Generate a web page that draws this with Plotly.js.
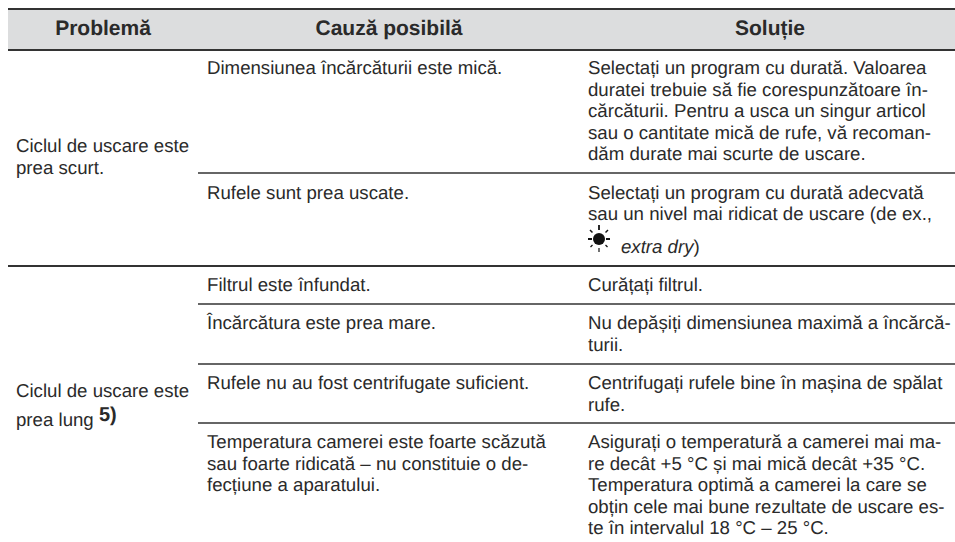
<!DOCTYPE html>
<html><head><meta charset="utf-8">
<script src="https://cdn.plot.ly/plotly-3.0.1.min.js"></script>
<style>html,body{margin:0;padding:0;background:#fff} svg text{text-rendering:geometricPrecision}</style>
</head><body><div id="chart" style="width:955px;height:542px"></div>
<script>
// Table content
const headers = ["Problemă", "Cauză posibilă", "Soluție"];
const problems = [
  ["Ciclul de uscare este", "prea scurt."],
  ["Ciclul de uscare este", "prea lung"]
];
const footnote = "5)";
const causes = [
  ["Dimensiunea încărcăturii este mică."],
  ["Rufele sunt prea uscate."],
  ["Filtrul este înfundat."],
  ["Încărcătura este prea mare."],
  ["Rufele nu au fost centrifugate suficient."],
  ["Temperatura camerei este foarte scăzută", "sau foarte ridicată – nu constituie o de-", "fecțiune a aparatului."]
];
const solutions = [
  ["Selectați un program cu durată. Valoarea", "duratei trebuie să fie corespunzătoare în-", "cărcăturii. Pentru a usca un singur articol", "sau o cantitate mică de rufe, vă recoman-", "dăm durate mai scurte de uscare."],
  ["Selectați un program cu durată adecvată", "sau un nivel mai ridicat de uscare (de ex.,"],
  ["Curățați filtrul."],
  ["Nu depășiți dimensiunea maximă a încărcă-", "turii."],
  ["Centrifugați rufele bine în mașina de spălat", "rufe."],
  ["Asigurați o temperatură a camerei mai ma-", "re decât +5 °C și mai mică decât +35 °C.", "Temperatura optimă a camerei la care se", "obțin cele mai bune rezultate de uscare es-", "te în intervalul 18 °C – 25 °C."]
];
const extraDry = "<i>extra dry</i>)";

// Page geometry (axes map 1:1 onto the page)
const W = 955, H = 542;
const ink = "#2a2a2a";
const font = "Liberation Sans, Arial, sans-serif";
const bodySize = 18.65, headSize = 21;
const step = 21.45;
const headerX = [103, 389, 770], headerY = 29.7;
const colX = [16, 207, 588];
const rowY = [69.8, 194.3, 286.8, 324.8, 384.8, 443.8];
const problemY = [[147.8, 169.8], [392.8, 421.8]];
const rules = [[8, 9, 2.2], [8, 50, 2.2], [198, 173, 1.6], [8, 266, 2.2], [198, 304, 1.6], [198, 364, 1.6], [198, 423, 1.6]];

function blockTrace(blocks, x, size) {
  const xs = [], ys = [], ts = [];
  blocks.forEach((lines, r) => lines.forEach((t, i) => {
    xs.push(x); ys.push(rowY[r] + i * step); ts.push(t);
  }));
  return textTrace(xs, ys, ts, size, "middle right");
}
function textTrace(x, y, text, size, pos, color) {
  return {type: "scatter", mode: "text", x, y, text, textposition: pos, cliponaxis: false,
    textfont: {family: font, size, color: color || ink}, hoverinfo: "skip", showlegend: false};
}
const pX = [], pY = [], pT = [];
problems.forEach((lines, b) => lines.forEach((t, i) => { pX.push(colX[0]); pY.push(problemY[b][i]); pT.push(t); }));

const traces = [
  textTrace(headerX, [headerY, headerY, headerY], headers.map(h => "<b>" + h + "</b>"), headSize, "middle center"),
  textTrace(pX, pY, pT, bodySize, "middle right"),
  textTrace([99], [415.5], ["<b>" + footnote + "</b>"], 20, "middle right"),
  blockTrace(causes, colX[1], bodySize),
  blockTrace(solutions, colX[2], bodySize),
  textTrace([621], [248.5], [extraDry], bodySize, "middle right")
];

const shapes = [{type: "rect", xref: "x", yref: "y", x0: 8, x1: W, y0: 9, y1: 50, fillcolor: "#dcddde", line: {width: 0}, layer: "below"}];
rules.forEach(([x, y, w]) => shapes.push({type: "line", xref: "x", yref: "y", x0: x, x1: W, y0: y, y1: y, line: {color: "#333333", width: w}}));
// sun icon of the "extra dry" level
const sx = 599, sy = 239;
shapes.push({type: "circle", xref: "x", yref: "y", x0: sx - 6, x1: sx + 6, y0: sy - 6, y1: sy + 6, fillcolor: "#111", line: {width: 0}});
[[0,-14,0,-9,1.8],[-11,0,-7,0,2],[7,0,11,0,2],[0,9,0,13,1.2],[-9,-9,-6.5,-6.5,1.5],[6.5,-6.5,9,-9,1.5],[-8.5,8,-6.5,6,1.2],[6.5,6,8.5,8,1.2]]
  .forEach(([a,b,c,d,w]) => shapes.push({type: "line", xref: "x", yref: "y", x0: sx+a, y0: sy+b, x1: sx+c, y1: sy+d, line: {color: "#111", width: w}}));

const hidden = {visible: false, fixedrange: true};
Plotly.newPlot("chart", traces, {
  width: W, height: H, margin: {l: 0, r: 0, t: 0, b: 0},
  paper_bgcolor: "#fff", plot_bgcolor: "#fff", showlegend: false,
  xaxis: Object.assign({range: [0, W]}, hidden),
  yaxis: Object.assign({range: [H, 0]}, hidden),
  shapes
}, {staticPlot: true, displayModeBar: false});
</script></body></html>
